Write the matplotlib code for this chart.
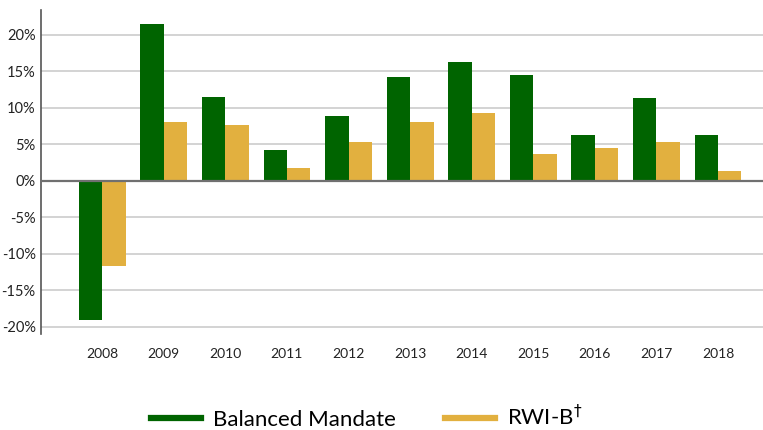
import numpy as np
import matplotlib.pyplot as plt
from matplotlib.lines import Line2D

years = ['2008', '2009', '2010', '2011', '2012', '2013', '2014', '2015', '2016', '2017', '2018']
balanced = [-19.0, 21.4, 11.5, 4.2, 8.9, 14.2, 16.3, 14.5, 6.2, 11.4, 6.3]
rwi_b = [-11.7, 8.1, 7.7, 1.8, 5.3, 8.1, 9.3, 3.7, 4.5, 5.3, 1.4]
yticks = [-20, -15, -10, -5, 0, 5, 10, 15, 20]

green = '#006400'
gold = '#e2b03f'

plt.rcParams['font.family'] = ['Lato', 'DejaVu Sans']

fig = plt.figure(figsize=(7.63, 4.30), dpi=100)
ax = fig.add_axes([0.054, 0.223, 0.946, 0.754])

x = np.arange(len(years))
w = 0.38
ax.bar(x - w / 2, balanced, w, color=green, zorder=3)
ax.bar(x + w / 2, rwi_b, w, color=gold, zorder=3)

# grid lines, zero line darker
for t in yticks:
    if t != 0:
        ax.axhline(t, color='#c8c8c8', linewidth=1.1, zorder=1)
ax.axhline(0, color='#707070', linewidth=1.6, zorder=4)

ax.set_xlim(-0.99, 10.73)
ax.set_ylim(-21, 23.4)
ax.set_xticks(x)
ax.set_xticklabels(years, fontsize=10, color='#222222')
ax.set_yticks(yticks)
ax.set_yticklabels([f'{t}%' for t in yticks], fontsize=10.5, color='#222222')
ax.tick_params(axis='both', length=0)
ax.tick_params(axis='x', pad=10)
ax.tick_params(axis='y', pad=4)

for s in ['top', 'right', 'bottom']:
    ax.spines[s].set_visible(False)
ax.spines['left'].set_color('#555555')
ax.spines['left'].set_linewidth(1.2)

handles = [Line2D([0], [0], color=green, linewidth=4.5),
           Line2D([0], [0], color=gold, linewidth=4.5)]
fig.legend(handles, ['Balanced Mandate', 'RWI-B$^{\\dagger}$'], loc='center',
           bbox_to_anchor=(0.481, 0.03), ncol=2, frameon=False, fontsize=16,
           handlelength=2.25, handletextpad=0.55, columnspacing=2.2)

fig.savefig('out.png', dpi=100)
